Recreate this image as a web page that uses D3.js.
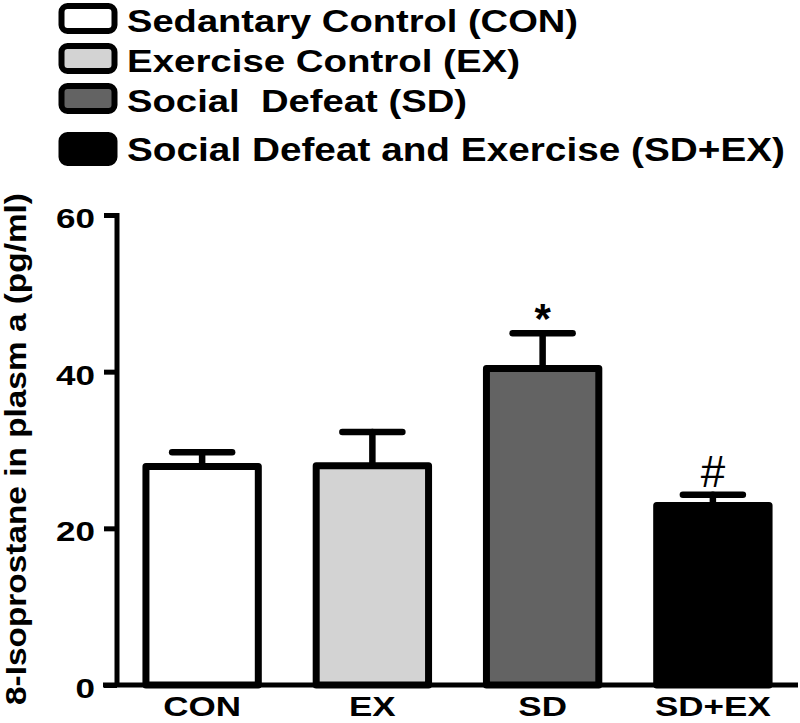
<!DOCTYPE html>
<html>
<head>
<meta charset="utf-8">
<script src="https://cdn.jsdelivr.net/npm/d3@7"></script>
<style>
  html, body { margin: 0; padding: 0; background: #fff; }
  svg text { font-family: "Liberation Sans", Arial, sans-serif; font-weight: bold; fill: #000; white-space: pre; }
</style>
</head>
<body>
<svg id="chart" width="800" height="723"></svg>
<script>
// ---- data ----
const categories = ["CON", "EX", "SD", "SD+EX"];
const means = [27.9, 28.0, 40.4, 22.9];
const sems = [1.8, 4.3, 4.5, 1.4];
const fills = ["#ffffff", "#d3d3d3", "#636363", "#000000"];
const legendLabels = ["Sedantary Control (CON)", "Exercise Control (EX)", "Social  Defeat (SD)", "Social Defeat and Exercise (SD+EX)"];
const significance = ["", "", "*", "#"];
const yTicks = [0, 20, 40, 60];
const yLabel = "8-Isoprostane in plasm a (pg/ml)";

// layout constants (not data)
const legendBaselines = [32, 72, 112, 161];
const legendWidths = [451, 393, 340, 658];

const svg = d3.select("#chart");

const x = d3.scaleBand().domain(categories).range([117, 798]).paddingInner(0.34).paddingOuter(0.17);
const y = d3.scaleLinear().domain([0, 60]).range([685, 215]);

function stretch(sel, f) {
  sel.each(function () {
    const w = this.getComputedTextLength();
    d3.select(this).attr("textLength", w * f).attr("lengthAdjust", "spacingAndGlyphs");
  });
}

// ---- legend ----
const lg = svg.append("g");
const rows = lg.selectAll("g.row").data(legendLabels).join("g").attr("class", "row");
rows.append("rect")
  .attr("x", 61.5).attr("width", 53)
  .attr("y", (d, i) => legendBaselines[i] - 26)
  .attr("height", (d, i) => i === 3 ? 28 : 25)
  .attr("rx", 6).attr("ry", 6)
  .attr("fill", (d, i) => fills[i])
  .attr("stroke", "#000").attr("stroke-width", 6);
rows.append("text")
  .attr("x", 127).attr("y", (d, i) => legendBaselines[i])
  .attr("font-size", (d, i) => i === 3 ? 33 : 31)
  .attr("textLength", (d, i) => legendWidths[i]).attr("lengthAdjust", "spacingAndGlyphs")
  .text(d => d);

// ---- axes ----
const yAxis = svg.append("g").attr("transform", "translate(117,0)")
  .call(d3.axisLeft(y).tickValues(yTicks).tickSize(13).tickPadding(9).tickFormat(d3.format("d")));
yAxis.select(".domain").remove();
yAxis.selectAll(".tick line").attr("stroke", "#000").attr("stroke-width", 5);
const ytl = yAxis.selectAll(".tick text")
  .attr("font-size", 28).attr("dy", "0.45em").attr("fill", "#000")
  .style("font-family", "'Liberation Sans', Arial, sans-serif").style("font-weight", "bold");
stretch(ytl, 1.25);

svg.append("line").attr("x1", 117).attr("x2", 117).attr("y1", y(60) - 2).attr("y2", y(0) + 2)
  .attr("stroke", "#000").attr("stroke-width", 5);

// ---- bars ----
const bw = x.bandwidth();
const bars = svg.append("g");
bars.selectAll("rect").data(categories).join("rect")
  .attr("x", d => x(d)).attr("width", bw)
  .attr("y", (d, i) => y(means[i])).attr("height", (d, i) => y(0) - y(means[i]))
  .attr("fill", (d, i) => fills[i])
  .attr("stroke", "#000").attr("stroke-width", 7).attr("stroke-linejoin", "round");

// ---- error bars ----
const eb = svg.append("g").attr("stroke", "#000").attr("stroke-width", 6.5).attr("stroke-linecap", "round");
eb.selectAll("line.v").data(categories).join("line").attr("class", "v")
  .attr("x1", d => x(d) + bw / 2).attr("x2", d => x(d) + bw / 2)
  .attr("y1", (d, i) => y(means[i])).attr("y2", (d, i) => y(means[i] + sems[i]));
eb.selectAll("line.h").data(categories).join("line").attr("class", "h")
  .attr("x1", d => x(d) + bw / 2 - 30).attr("x2", d => x(d) + bw / 2 + 30)
  .attr("y1", (d, i) => y(means[i] + sems[i])).attr("y2", (d, i) => y(means[i] + sems[i]));

// ---- significance ----
svg.append("g").selectAll("text").data(categories).join("text")
  .attr("x", d => x(d) + bw / 2)
  .attr("y", (d, i) => y(means[i] + sems[i]) + (significance[i] === "*" ? 0 : -8))
  .attr("text-anchor", "middle")
  .attr("font-size", (d, i) => significance[i] === "*" ? 42 : 44)
  .style("font-weight", (d, i) => significance[i] === "*" ? "bold" : "normal")
  .text((d, i) => significance[i]);

// ---- x axis ----
svg.append("line").attr("x1", 103).attr("x2", 798).attr("y1", y(0)).attr("y2", y(0))
  .attr("stroke", "#000").attr("stroke-width", 5);
const xl = svg.append("g").selectAll("text").data(categories).join("text")
  .attr("x", d => x(d) + bw / 2).attr("y", 716)
  .attr("text-anchor", "middle").attr("font-size", 28)
  .text(d => d);
stretch(xl, 1.25);

// ---- y label ----
svg.append("text")
  .attr("transform", "translate(26,449) rotate(-90)")
  .attr("text-anchor", "middle")
  .attr("font-size", 29)
  .attr("textLength", 512).attr("lengthAdjust", "spacingAndGlyphs")
  .text(yLabel);
</script>
</body>
</html>
